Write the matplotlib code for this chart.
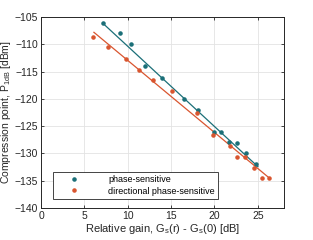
import matplotlib.pyplot as plt
import numpy as np

plt.rcParams['font.family'] = ['Liberation Sans', 'DejaVu Sans']

# phase-sensitive (measured)
ps_x = [7.1, 9.1, 10.4, 12.0, 14.0, 16.5, 18.1, 20.0, 20.8, 21.7, 22.6, 23.6, 24.8]
ps_y = [-106.1, -108.0, -110.0, -114.0, -116.1, -120.0, -122.0, -126.1, -126.1, -127.9, -128.1, -130.0, -132.0]
# phase-sensitive fit line
ps_fit_x = [7.1, 25.0]
ps_fit_y = [-106.1, -132.4]

# directional phase-sensitive
dps_x = [6.0, 7.7, 9.8, 11.25, 12.9, 15.05, 18.0, 19.8, 21.8, 22.65, 23.5, 24.6, 25.5, 26.3]
dps_y = [-108.6, -110.55, -112.6, -114.65, -116.6, -118.55, -122.5, -126.55, -128.55, -130.6, -130.6, -132.6, -134.5, -134.5]
dps_fit_x = [6.1, 26.4]
dps_fit_y = [-107.8, -134.6]

teal = '#1b6f78'
red = '#d9552f'

fig = plt.figure(figsize=(3.13, 2.4), dpi=100)
ax = fig.add_axes([0.131, 0.133, 0.776, 0.796])

ax.plot(ps_fit_x, ps_fit_y, color=teal, lw=0.9)
ax.plot(dps_fit_x, dps_fit_y, color=red, lw=0.9)
ax.plot(ps_x, ps_y, '.', color=teal, ms=4.5, label='phase-sensitive')
ax.plot(dps_x, dps_y, '.', color=red, ms=4.5, label='directional phase-sensitive')

ax.set_xlim(0, 28)
ax.set_ylim(-140, -105)
ax.set_xticks(np.arange(0, 30, 5))
ax.set_yticks(np.arange(-140, -104, 5))
ax.grid(color='#e3e3e3', lw=0.6)
ax.set_axisbelow(True)
ax.tick_params(direction='in', top=True, right=True, labelsize=7.5, length=2.5,
               width=0.6, colors='#262626', pad=2)
for s in ax.spines.values():
    s.set_linewidth(0.7)
    s.set_color('#262626')

ax.set_xlabel('Relative gain, G$_\\mathregular{s}$(r) - G$_\\mathregular{s}$(0) [dB]',
              fontsize=8, color='#262626', labelpad=1)
ax.set_ylabel('Compression point, P$_\\mathregular{1dB}$ [dBm]',
              fontsize=7.5, color='#262626', labelpad=1)

leg = ax.legend(loc='lower left', bbox_to_anchor=(0.03, 0.025), fontsize=6.5,
                fancybox=False, framealpha=1, edgecolor='#262626',
                handlelength=4, borderpad=0.35, labelspacing=0.3, handletextpad=1.8)
leg.get_frame().set_linewidth(0.6)

plt.savefig('out.png', dpi=100)
